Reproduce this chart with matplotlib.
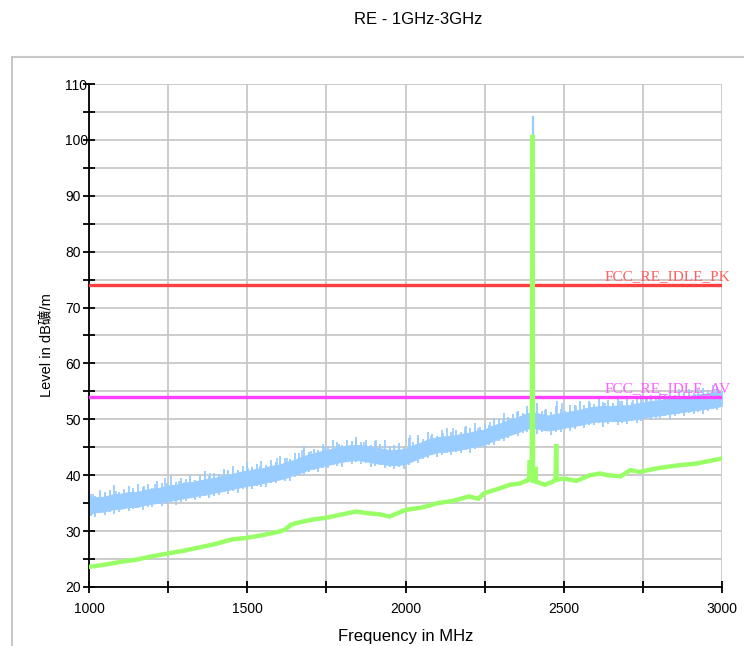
import numpy as np
import matplotlib
matplotlib.use("Agg")
import matplotlib.pyplot as plt
from matplotlib.ticker import MultipleLocator
from matplotlib.patches import Rectangle

# ---------------- data ----------------
title = "RE - 1GHz-3GHz"
x_label = "Frequency in MHz"
y_label = "Level in dB礦/m"

# peak trace (blue) envelope, 25 MHz steps from 1000 to 3000 MHz
blue_freq = np.arange(1000, 3001, 25)
blue_upper = [35.8, 36.1, 36.2, 36.6, 36.7, 37.0, 37.0, 37.4, 37.6, 37.8,
              38.2, 38.3, 38.7, 38.8, 39.1, 39.4, 39.6, 40.0, 40.2, 40.6,
              40.8, 41.1, 41.3, 41.7, 41.9, 42.4, 42.8, 43.4, 43.8, 44.2,
              44.5, 44.9, 45.1, 45.4, 45.4, 45.3, 44.9, 44.8, 44.5, 44.6,
              44.7, 45.4, 45.9, 46.5, 46.8, 47.0, 47.1, 47.4, 47.6, 48.0,
              48.2, 48.9, 49.3, 49.9, 50.3, 50.9, 51.3, 51.0, 50.7, 51.0,
              51.2, 51.5, 51.7, 52.1, 52.3, 52.4, 52.4, 52.5, 52.5, 52.8,
              53.0, 53.3, 53.4, 53.7, 53.8, 54.1, 54.2, 54.5, 54.6, 54.9,
              55.1]
blue_lower = [33.0, 33.4, 33.5, 33.9, 34.0, 34.3, 34.3, 34.7, 34.9, 35.1,
              35.4, 35.6, 35.9, 36.1, 36.4, 36.6, 36.9, 37.2, 37.5, 37.8,
              38.1, 38.3, 38.6, 38.9, 39.2, 39.6, 40.1, 40.6, 41.1, 41.4,
              41.8, 42.1, 42.4, 42.6, 42.7, 42.5, 42.2, 42.0, 41.8, 41.8,
              42.0, 42.6, 43.2, 43.7, 44.1, 44.2, 44.4, 44.6, 44.9, 45.2,
              45.5, 46.1, 46.6, 47.1, 47.6, 48.1, 48.6, 48.2, 48.0, 48.2,
              48.5, 48.7, 49.0, 49.3, 49.6, 49.6, 49.7, 49.7, 49.8, 50.0,
              50.3, 50.5, 50.7, 50.9, 51.1, 51.3, 51.5, 51.7, 51.9, 52.1,
              52.4]
# fine ripple of the blue trace: excursions above the upper / below the lower
# envelope, every 15 MHz starting at 1005 MHz
ripple_freq = np.arange(1005, 3000, 15)
ripple_up = [0.8, 0.3, 1.2, 0.5, 0.9, 1.6, 0.4, 0.7, 1.1, 0.3,
             1.4, 0.6, 0.9, 0.2, 1.3, 0.8, 0.5, 1.7, 0.4, 1.0,
             0.6, 1.2, 0.3, 0.9, 1.5, 0.5, 0.8, 0.4, 1.1, 0.7,
             1.3, 0.3, 0.9, 1.6, 0.5, 0.8, 1.2, 0.4, 1.0, 0.6,
             1.4, 0.7, 0.3, 1.1, 0.9, 1.8, 0.5, 0.8, 0.4, 1.2,
             0.6, 1.5, 0.9, 0.3, 1.1, 0.7, 1.4, 0.5, 1.0, 0.4,
             1.3, 0.8, 1.6, 0.5, 0.9, 1.2, 0.4, 1.7, 0.6, 1.0,
             0.5, 1.3, 0.8, 0.3, 1.1, 1.5, 0.6, 0.9, 0.4, 1.2,
             0.7, 1.4, 0.5, 1.0, 0.3, 1.2, 0.8, 1.6, 0.5, 0.9,
             1.1, 0.4, 1.3, 0.7, 1.8, 0.6, 1.0, 0.5, 1.4, 0.8,
             0.3, 1.2, 0.9, 1.5, 0.6, 1.1, 0.4, 1.3, 0.7, 1.0,
             0.5, 1.6, 0.8, 1.2, 0.4, 0.9, 1.4, 0.6, 1.1, 0.3,
             1.3, 0.7, 1.0, 0.5, 1.5, 0.8, 1.2, 0.4, 0.9, 1.1,
             0.6, 1.3, 0.8]
ripple_down = [0.4, 0.8, 0.2, 0.6, 0.3, 0.9, 0.5, 0.2, 0.7, 0.4,
               0.3, 0.8, 0.5, 0.6, 0.2, 0.7, 0.4, 0.3, 0.9, 0.5,
               0.6, 0.2, 0.7, 0.4, 0.3, 0.8, 0.5, 0.6, 0.2, 0.7,
               0.4, 0.9, 0.3, 0.5, 0.7, 0.2, 0.6, 0.8, 0.3, 0.5,
               0.2, 0.6, 0.9, 0.4, 0.3, 0.7, 0.5, 0.2, 0.8, 0.4,
               0.6, 0.3, 0.5, 0.9, 0.2, 0.7, 0.4, 0.6, 0.3, 0.8,
               0.5, 0.2, 0.7, 0.4, 0.6, 0.3, 0.9, 0.5, 0.2, 0.7,
               0.4, 0.6, 0.3, 0.8, 0.5, 0.2, 0.7, 0.4, 0.6, 0.3,
               0.9, 0.5, 0.2, 0.7, 0.4, 0.8, 0.3, 0.6, 0.5, 0.2,
               0.7, 0.4, 0.6, 0.3, 0.9, 0.5, 0.2, 0.8, 0.4, 0.6,
               0.3, 0.7, 0.5, 0.2, 0.8, 0.4, 0.6, 0.3, 0.9, 0.5,
               0.2, 0.7, 0.4, 0.6, 0.3, 0.8, 0.5, 0.2, 0.7, 0.4,
               0.6, 0.3, 0.9, 0.5, 0.2, 0.7, 0.4, 0.6, 0.3, 0.8,
               0.5, 0.2, 0.6]
# individual taller spikes on the blue trace (MHz, dB)
blue_spike_freq = [1012, 1050, 1085, 1139, 1175, 1210, 1240, 1285, 1320, 1383,
                   1410, 1440, 1470, 1503, 1540, 1594, 1625, 1673, 1700, 1746,
                   1790, 1844, 1870, 1907, 1950, 2014, 2040, 2080, 2120, 2150,
                   2188, 2230, 2267, 2308, 2352, 2384, 2405, 2440, 2479, 2494,
                   2540, 2583, 2630, 2678, 2720, 2763, 2800, 2836, 2880, 2915,
                   2963, 2995]
blue_spike_top = [36.6, 37.0, 37.2, 37.7, 38.0, 38.4, 39.5, 39.0, 39.4, 40.4,
                  40.2, 40.9, 41.0, 41.3, 41.7, 43.1, 43.0, 44.5, 44.4, 45.0,
                  45.6, 46.3, 45.9, 46.3, 45.3, 47.2, 47.2, 47.1, 47.6, 48.4,
                  48.6, 48.5, 49.5, 49.9, 51.3, 51.7, 58.6, 51.6, 53.3, 52.9,
                  52.4, 52.9, 53.0, 53.2, 53.4, 53.8, 54.0, 54.0, 54.6, 54.5,
                  54.7, 55.0]
blue_main_peak_freq = 2402
blue_main_peak_level = 104.3

# average trace (green)
green_freq = [1000, 1050, 1100, 1150, 1200, 1250, 1300, 1350, 1400, 1450,
              1500, 1550, 1600, 1620, 1640, 1667, 1700, 1750, 1800, 1844,
              1880, 1920, 1950, 1975, 2000, 2050, 2077, 2100, 2150, 2200,
              2230, 2250, 2300, 2330, 2360, 2390, 2393, 2395, 2397, 2399,
              2401, 2403, 2407, 2410, 2413, 2420, 2440, 2460, 2474, 2476,
              2478, 2500, 2540, 2583, 2615, 2640, 2680, 2710, 2740, 2800,
              2867, 2920, 3000]
green_level = [23.6, 24.0, 24.5, 24.9, 25.5, 26.0, 26.5, 27.1, 27.7, 28.5,
               28.8, 29.3, 29.9, 30.3, 31.2, 31.6, 32.0, 32.4, 33.0, 33.5,
               33.2, 33.0, 32.6, 33.2, 33.8, 34.2, 34.6, 35.0, 35.4, 36.2,
               35.8, 36.8, 37.7, 38.3, 38.5, 39.2, 42.7, 39.4, 40.5, 39.2,
               100.9, 39.0, 39.0, 41.5, 38.8, 38.7, 38.3, 38.7, 39.2, 45.6,
               39.2, 39.4, 39.0, 40.0, 40.3, 40.0, 39.8, 40.9, 40.6, 41.3,
               41.8, 42.1, 43.0]

# limit lines
limit_names = ["FCC_RE_IDLE_PK", "FCC_RE_IDLE_AV"]
limit_levels = [74, 54]
limit_colors = ["#FF4040", "#FF40FF"]
limit_text_colors = ["#FF6060", "#FF60FF"]

x_min, x_max = 1000, 3000
y_min, y_max = 20, 110

# ---------------- figure ----------------
plt.rcParams['font.family'] = ['Liberation Sans', 'Noto Sans CJK SC', 'DejaVu Sans']
fig = plt.figure(figsize=(7.44, 6.46), dpi=100)
W, H = 744, 646

# outer frame
fig.patches.append(Rectangle((12 / W, -0.1), 1.2, 1 - 57 / H + 0.1,
                             transform=fig.transFigure, fill=False,
                             edgecolor="#C8C8C8", linewidth=1.5))

fig.text(418 / W, 1 - 20 / H, title, ha="center", va="center", fontsize=12)

ax = fig.add_axes([89 / W, 1 - 587 / H, (722 - 89) / W, (587 - 84) / H])
ax.set_xlim(x_min, x_max)
ax.set_ylim(y_min, y_max)

ax.xaxis.set_major_locator(MultipleLocator(500))
ax.xaxis.set_minor_locator(MultipleLocator(250))
ax.yaxis.set_major_locator(MultipleLocator(10))
ax.yaxis.set_minor_locator(MultipleLocator(5))
ax.grid(True, which="both", color="#C8C8C8", linewidth=1.3, zorder=0)
ax.set_axisbelow(True)
for s in ["top", "right"]:
    ax.spines[s].set_visible(False)
for s in ["left", "bottom"]:
    ax.spines[s].set_linewidth(1.3)
ax.tick_params(axis="both", which="both", direction="inout", width=1.3,
               labelsize=10)
ax.tick_params(axis="y", which="major", length=9, pad=12.5)
ax.tick_params(axis="y", which="minor", length=9)
ax.tick_params(axis="x", which="major", length=9, pad=6)
ax.tick_params(axis="x", which="minor", length=9)
for lab in ax.get_yticklabels():
    lab.set_horizontalalignment("left")

# blue peak trace
ax.fill_between(blue_freq, blue_lower, blue_upper, color="#99CCFF",
                linewidth=0.6, edgecolor="#99CCFF", zorder=2)
rip_hi = np.interp(ripple_freq, blue_freq, blue_upper) + np.array(ripple_up)
rip_lo = np.interp(ripple_freq, blue_freq, blue_lower) - np.array(ripple_down)
ax.vlines(ripple_freq, rip_lo, rip_hi, color="#99CCFF", linewidth=1.3, zorder=2)
spike_base = np.interp(blue_spike_freq, blue_freq, blue_lower)
ax.vlines(blue_spike_freq, spike_base, blue_spike_top, color="#99CCFF",
          linewidth=1.2, zorder=2)
ax.vlines([blue_main_peak_freq], [50], [blue_main_peak_level],
          color="#99CCFF", linewidth=1.6, zorder=2)

# limit lines
for name, lvl, c, tc in zip(limit_names, limit_levels, limit_colors, limit_text_colors):
    ax.axhline(lvl, color=c, linewidth=2.4, zorder=3)
    ax.text(2630, lvl + 0.35, name, color=tc, fontsize=11,
            family="Liberation Serif", ha="left", va="bottom",
            clip_on=False, zorder=4)

# green average trace
ax.plot(green_freq, green_level, color="#99FF66", linewidth=3.2, zorder=4,
        solid_joinstyle="miter")

ax.set_xlabel(x_label, fontsize=12, labelpad=10)
ax.set_ylabel(y_label, fontsize=10.5)
ax.yaxis.set_label_coords(-0.055, 0.48)

fig.savefig("out.png", dpi=100, facecolor="white")
